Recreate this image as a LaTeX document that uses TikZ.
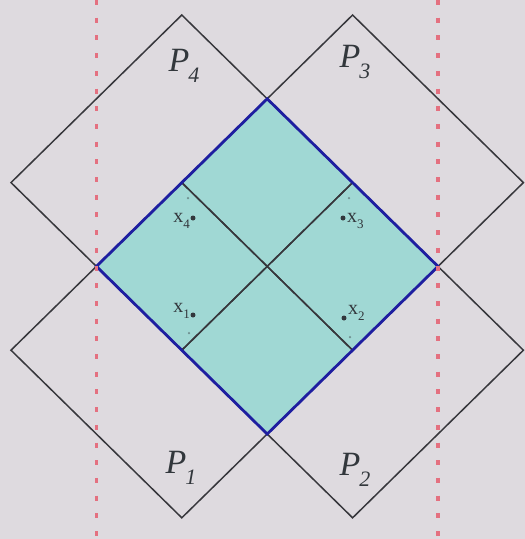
\documentclass[tikz,border=0pt]{standalone}
\usepackage{fontspec}
\setmainfont{Liberation Serif}
\definecolor{bgc}{RGB}{222,218,223}
\definecolor{tealfill}{RGB}{160,216,212}
\definecolor{edgeblue}{RGB}{30,30,160}
\definecolor{sqline}{RGB}{55,55,60}
\definecolor{reddot}{RGB}{228,112,128}
\definecolor{labc}{RGB}{50,55,60}
\newcommand{\psub}[1]{\kern-1pt\raisebox{-0.32em}{\fontsize{22}{24}\selectfont\itshape #1}}
\newcommand{\xsub}[1]{\raisebox{-0.3em}{\fontsize{13}{15}\selectfont #1}}
\begin{document}
\begin{tikzpicture}[x=1pt,y=-1pt,
  square/.style={draw=sqline,line width=1.5pt,line join=miter},
  central/.style={draw=edgeblue,line width=2.8pt,line join=miter},
  guide/.style={draw=reddot,line width=3.5pt,dash pattern=on 5pt off 12.7pt},
  plabel/.style={font=\fontsize{34}{36}\selectfont\itshape,text=labc,inner sep=0pt},
  xlabel/.style={font=\fontsize{20}{22}\selectfont,text=labc,inner sep=0pt},
  pt/.style={fill=labc,circle,inner sep=0pt,minimum size=5pt},
  faint/.style={fill=labc!45!tealfill,circle,inner sep=0pt,minimum size=2.5pt}]
\fill[bgc] (0,0) rectangle (525,539);
\useasboundingbox (0,0) rectangle (525,539);
% central diamond
\coordinate (Ct) at (267.2,98.8);
\coordinate (Cr) at (438,266.4);
\coordinate (Cb) at (267.2,434);
\coordinate (Cl) at (96.4,266.4);
% P4
\coordinate (P4l) at (11,182.6);
\coordinate (P4t) at (181.8,15);
\coordinate (P4r) at (352.6,182.6);
\coordinate (P4b) at (181.8,350.2);
% P3
\coordinate (P3l) at (181.8,182.6);
\coordinate (P3t) at (352.6,15);
\coordinate (P3r) at (523.4,182.6);
\coordinate (P3b) at (352.6,350.2);
% P1
\coordinate (P1l) at (11,350.2);
\coordinate (P1t) at (181.8,182.6);
\coordinate (P1r) at (352.6,350.2);
\coordinate (P1b) at (181.8,517.8);
% P2
\coordinate (P2l) at (181.8,350.2);
\coordinate (P2t) at (352.6,182.6);
\coordinate (P2r) at (523.4,350.2);
\coordinate (P2b) at (352.6,517.8);
% guide line ends
\coordinate (G1t) at (96.4,0);
\coordinate (G1b) at (96.4,539);
\coordinate (G2t) at (438,0);
\coordinate (G2b) at (438,539);

\fill[tealfill] (Ct) -- (Cr) -- (Cb) -- (Cl) -- cycle;
\draw[square] (P4l) -- (P4t) -- (P4r) -- (P4b) -- cycle;
\draw[square] (P3l) -- (P3t) -- (P3r) -- (P3b) -- cycle;
\draw[square] (P1l) -- (P1t) -- (P1r) -- (P1b) -- cycle;
\draw[square] (P2l) -- (P2t) -- (P2r) -- (P2b) -- cycle;
\draw[central] (Ct) -- (Cr) -- (Cb) -- (Cl) -- cycle;
\draw[guide] (G1t) -- (G1b);
\draw[guide] (G2t) -- (G2b);

% labels
\node[plabel] (L4) at (184,66) {P\psub{4}};
\node[plabel] (L3) at (355,62) {P\psub{3}};
\node[plabel] (L1) at (181,468) {P\psub{1}};
\node[plabel] (L2) at (355,470) {P\psub{2}};

% points
\node[pt] (d4) at (193,218) {};
\node[pt] (d3) at (343,218) {};
\node[pt] (d1) at (193,315) {};
\node[pt] (d2) at (344,318) {};
\node[xlabel,anchor=east] (x4) at (190,221) {x\xsub{4}};
\node[xlabel,anchor=west] (x3) at (347,221) {x\xsub{3}};
\node[xlabel,anchor=east] (x1) at (190,311) {x\xsub{1}};
\node[xlabel,anchor=west] (x2) at (348,313) {x\xsub{2}};

% faint marks near corners
\node[faint] (m4) at (188,198) {};
\node[faint] (m3) at (349,198) {};
\node[faint] (m1) at (189,333) {};
\node[faint] (m2) at (350,337) {};
\end{tikzpicture}
\end{document}
